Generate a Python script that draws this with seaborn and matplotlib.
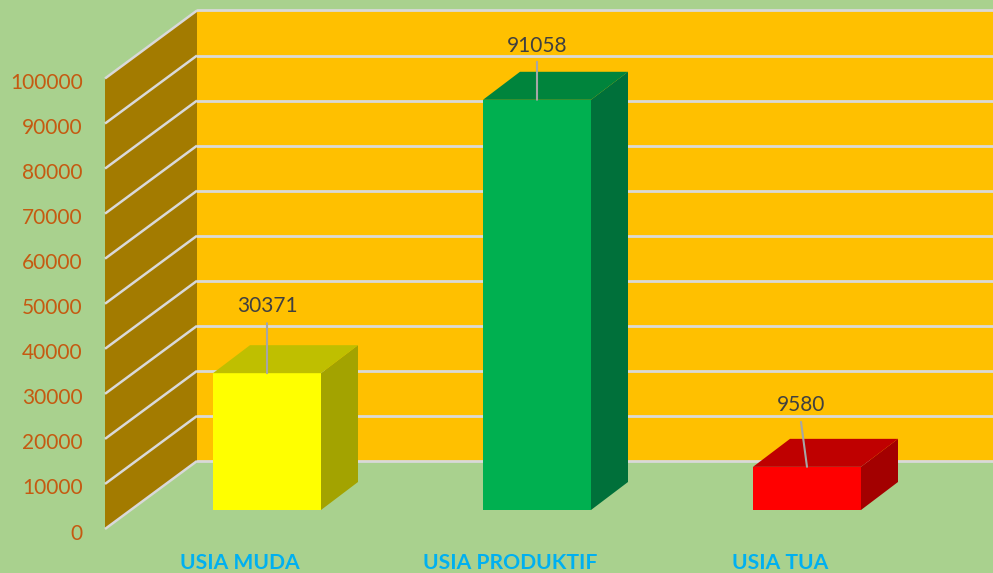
"""Excel style 3D column chart of population by age group, built with seaborn."""

import matplotlib
matplotlib.use("Agg")
import matplotlib.pyplot as plt
from matplotlib.patches import Polygon
from matplotlib.transforms import ScaledTranslation
import seaborn as sns

CATEGORIES = ["USIA MUDA", "USIA PRODUKTIF", "USIA TUA"]
VALUES = [30371, 91058, 9580]
BAR_COLORS = ["#FFFF00", "#00B050", "#FF0000"]
TOP_COLORS = ["#BFBF00", "#00843C", "#BF0000"]
SIDE_COLORS = ["#A3A300", "#00703A", "#A30000"]
Y_TICKS = list(range(0, 100001, 10000))
LABEL_SHIFT = [(0, 67), (0, 54), (-6, 62)]
LEADER_SHIFT = [(0, 50), (0, 38), (-6, 45)]

BG = "#A9D18E"
WALL = "#FFC000"
SIDE_WALL = "#A37B00"
GRID = "#D9D9D9"
TICK_COLOR = "#C55A11"
CAT_COLOR = "#00B0F0"

W, H = 993, 573
PLANE_W, PLANE_H = 810, 450.5
X_LIM = (-0.5, 2.5)
Y_LIM = (0, 100000)
X_PER_PX = (X_LIM[1] - X_LIM[0]) / PLANE_W
Y_PER_PX = Y_LIM[1] / PLANE_H

sns.set_theme(style="white")
plt.rcParams["font.family"] = ["Lato", "DejaVu Sans"]

fig = plt.figure(figsize=(W / 100, H / 100), dpi=100, facecolor=BG)


def plane(left, zero_y, zorder):
    """Axes for one depth plane; left and zero_y are in picture pixels."""
    ax = fig.add_axes([left / W, (H - zero_y) / H, PLANE_W / W, PLANE_H / H])
    ax.set_xlim(*X_LIM)
    ax.set_ylim(*Y_LIM)
    ax.set_zorder(zorder)
    ax.patch.set_alpha(0)
    sns.despine(ax=ax, left=True, bottom=True)
    return ax


# back wall
ax_back = plane(197, 461, 0)
ax_back.patch.set_alpha(1)
ax_back.set_facecolor(WALL)
ax_back.set_yticks(Y_TICKS)
ax_back.set_xticks([])
ax_back.set_yticklabels([])
ax_back.tick_params(length=0)
ax_back.grid(axis="y", color=GRID, linewidth=2)
for line in ax_back.get_ygridlines():
    line.set_clip_on(False)

# front plane: carries the side wall and the tick labels
ax_front = plane(105, 529, 1)
wall_dx = 92 * X_PER_PX
wall_dy = 68 * Y_PER_PX
x0 = X_LIM[0]
ax_front.add_patch(Polygon(
    [(x0, 0), (x0 + wall_dx, wall_dy), (x0 + wall_dx, Y_LIM[1] + wall_dy), (x0, Y_LIM[1])],
    closed=True, facecolor=SIDE_WALL, edgecolor="none", clip_on=False))
for v in Y_TICKS:
    ax_front.plot([x0, x0 + wall_dx], [v, v + wall_dy], color=GRID, lw=1.8,
                  clip_on=False, solid_capstyle="butt")
ax_front.set_yticks(Y_TICKS)
ax_front.set_yticklabels([str(v) for v in Y_TICKS], color=TICK_COLOR, fontsize=15)
ax_front.set_xticks(range(len(CATEGORIES)))
ax_front.set_xticklabels(CATEGORIES, color=CAT_COLOR, fontsize=15.2, fontweight="bold")
ax_front.tick_params(axis="y", length=0, pad=16)
ax_front.tick_params(axis="x", length=0, pad=17)
nudge = ScaledTranslation(0, -2.5 / 100, fig.dpi_scale_trans)
for label in ax_front.get_yticklabels():
    label.set_transform(label.get_transform() + nudge)

# bars sit part way into the floor
ax_bar = plane(132, 510, 2)
sns.barplot(x=CATEGORIES, y=VALUES, hue=CATEGORIES, palette=BAR_COLORS, width=0.4,
            dodge=False, legend=False, saturation=1, linewidth=0, ax=ax_bar)
ax_bar.set_xlim(*X_LIM)
ax_bar.set_ylim(*Y_LIM)
ax_bar.axis("off")

depth_x = 37 * X_PER_PX
depth_y = 28 * Y_PER_PX
for i, bar in enumerate(ax_bar.patches[:len(VALUES)]):
    left = bar.get_x()
    right = left + bar.get_width()
    top = bar.get_height()
    ax_bar.add_patch(Polygon(
        [(right, 0), (right + depth_x, depth_y), (right + depth_x, top + depth_y), (right, top)],
        closed=True, facecolor=SIDE_COLORS[i], edgecolor="none", clip_on=False))
    ax_bar.add_patch(Polygon(
        [(left, top), (left + depth_x, top + depth_y), (right + depth_x, top + depth_y), (right, top)],
        closed=True, facecolor=TOP_COLORS[i], edgecolor="none", clip_on=False))

# data labels with leader lines
for i, v in enumerate(VALUES):
    ax_bar.annotate("", xy=(i, v), xytext=LEADER_SHIFT[i], textcoords="offset pixels",
                    arrowprops=dict(arrowstyle="-", color="#A6A6A6", lw=1.5,
                                    shrinkA=0, shrinkB=0))
    ax_bar.annotate(str(v), xy=(i, v), xytext=LABEL_SHIFT[i], textcoords="offset pixels",
                    ha="center", va="center", color="#404040", fontsize=15)

fig.savefig("out.png", dpi=100, facecolor=BG)
